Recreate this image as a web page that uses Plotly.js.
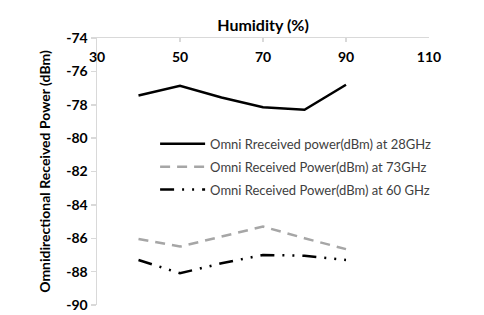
<!DOCTYPE html>
<html>
<head>
<meta charset="utf-8">
<script src="https://cdn.plot.ly/plotly-3.0.1.min.js"></script>
<style>html,body{margin:0;padding:0;background:#fff;}#chart{width:484px;height:315px;}</style>
</head>
<body>
<div id="chart"></div>
<script>
const humidity = [40, 50, 60, 70, 80, 90];
const power28 = [-77.45, -76.86, -77.57, -78.15, -78.3, -76.8];
const power73 = [-86.04, -86.5, -85.9, -85.3, -86.0, -86.65];
const power60 = [-87.3, -88.1, -87.5, -87.0, -87.05, -87.3];
const seriesNames = [
  "Omni Rreceived power(dBm) at 28GHz",
  "Omni Received Power(dBm) at 73GHz",
  "Omni Received Power(dBm) at 60 GHz"
];
const xTicks = [30, 50, 70, 90, 110];
const yTicks = [-90, -88, -86, -84, -82, -80, -78, -76, -74];

const traces = [
  {x: humidity, y: power28, name: seriesNames[0], mode: 'lines', legendgroup: 'a',
   line: {color: '#000000', width: 2.5}},
  {x: humidity, y: power73, name: seriesNames[1], mode: 'lines', legendgroup: 'b',
   line: {color: '#a6a6a6', width: 2.5, dash: '10px,7px'}},
  {x: humidity, y: power60, name: seriesNames[2], mode: 'lines', legendgroup: 'c',
   line: {color: '#000000', width: 2.5, dash: '14px,8px,2px,8px,2px,8px'}},
  // empty trace that registers the label axis
  {x: [], y: [], xaxis: 'x2', yaxis: 'y', showlegend: false, hoverinfo: 'skip'}
];

const tickFont = {size: 14, family: 'Lato, sans-serif', weight: 'bold', color: '#000'};

const layout = {
  width: 484, height: 315,
  margin: {l: 97, r: 55, t: 38, b: 10},
  paper_bgcolor: '#ffffff', plot_bgcolor: '#ffffff',
  font: {family: 'Lato, "Open Sans", sans-serif', color: '#000000'},
  showlegend: true,
  legend: {x: 0.175, y: 0.66, xanchor: 'left', yanchor: 'top',
    bgcolor: 'rgba(0,0,0,0)', font: {size: 13, color: '#404040', family: 'Lato, sans-serif'},
    itemwidth: 45, traceorder: 'grouped', tracegroupgap: 3},
  xaxis: {
    range: [30, 110], side: 'top', tickvals: xTicks, showticklabels: false,
    ticks: 'inside', ticklen: 4, tickcolor: '#d9d9d9', tickwidth: 1.5,
    showline: true, linecolor: '#d9d9d9', linewidth: 1.5, showgrid: false, zeroline: false,
    title: {text: '<b>Humidity (%)</b>', font: {size: 16, family: 'Lato, sans-serif', color: '#000'}, standoff: 1}
  },
  xaxis2: {
    range: [30, 110], overlaying: 'x', anchor: 'free', position: 0.966, side: 'bottom',
    tickvals: xTicks, ticktext: xTicks.map(String), ticks: '', showline: false,
    showgrid: false, zeroline: false, tickfont: tickFont
  },
  yaxis: {
    range: [-90, -74], tickvals: yTicks, ticktext: yTicks.map(String),
    ticklabeloverflow: 'allow',
    ticks: 'outside', ticklen: 5, tickcolor: '#d9d9d9', tickwidth: 1.5,
    showline: true, linecolor: '#d9d9d9', linewidth: 1.5, showgrid: false, zeroline: false,
    tickfont: tickFont,
    title: {text: '<b>Omnidirectional Received Power (dBm)</b>', font: {size: 14, family: 'Lato, sans-serif', color: '#000'}, standoff: 12}
  }
};

Plotly.newPlot('chart', traces, layout, {displayModeBar: false, staticPlot: true});
</script>
</body>
</html>
